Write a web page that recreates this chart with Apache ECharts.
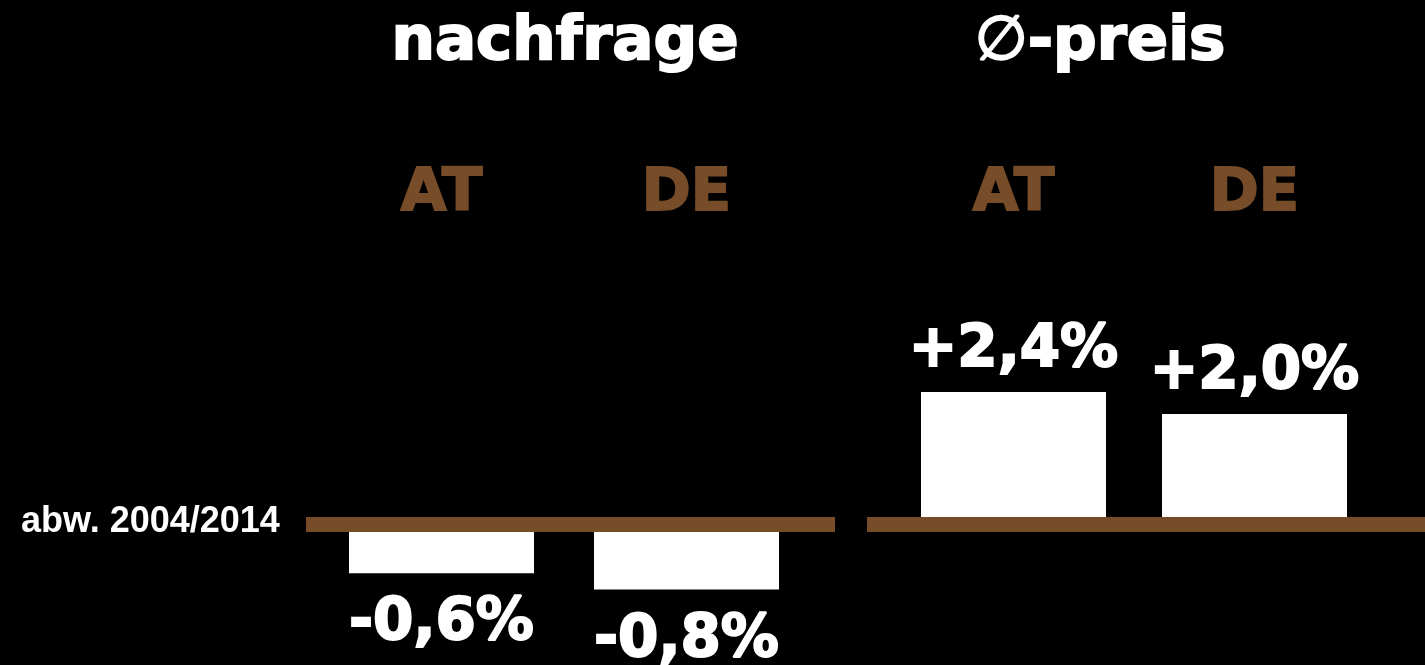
<!DOCTYPE html>
<html>
<head>
<meta charset="utf-8">
<script src="https://cdn.jsdelivr.net/npm/echarts@6/dist/echarts.min.js"></script>
<style>
  html, body { margin: 0; padding: 0; background: #000; }
  #main { width: 1425px; height: 665px; }
</style>
</head>
<body>
<div id="main"></div>
<script>
// abweichung 2004/2014 in %
const countries = ['AT', 'DE'];
const nachfrage = [-0.6, -0.8];
const preis = [2.4, 2.0];

const brown = '#774c28';
const bigFont = 'DejaVu Sans';

const fmt = (v) => (v > 0 ? '+' : '') + v.toFixed(1).replace('.', ',') + '%';

const myChart = echarts.init(document.getElementById('main'));

// thick white text, the reference uses a black-weight face
const heavy = (color, size) => ({
  color,
  fontFamily: bigFont,
  fontWeight: 'bold',
  fontSize: size,
  textBorderColor: color,
  textBorderWidth: 2,
});

const barSeries = (data, idx, pos, dist) => ({
  type: 'bar',
  xAxisIndex: idx,
  yAxisIndex: idx,
  barWidth: 185,
  data,
  itemStyle: { color: '#fff' },
  label: {
    show: true,
    position: pos,
    distance: dist,
    ...heavy('#fff', 58),
    formatter: (p) => fmt(p.value),
  },
});

const catAxis = (gridIndex, offset) => ({
  type: 'category',
  gridIndex,
  data: countries,
  position: 'top',
  offset,
  axisLine: { show: false, onZero: false },
  axisTick: { show: false },
  axisLabel: { ...heavy(brown, 59), margin: 0 },
});

// baseline axis only, drawn over the bars
const lineAxis = (gridIndex) => ({
  type: 'category',
  gridIndex,
  data: [''],
  z: 10,
  axisLine: { lineStyle: { color: brown, width: 15, cap: 'butt' } },
  axisTick: { show: false },
  axisLabel: { show: false },
});

const option = {
  backgroundColor: '#000',
  animation: false,
  title: [
    {
      text: 'nachfrage',
      left: 560,
      top: 8,
      textAlign: 'center',
      textStyle: heavy('#fff', 61),
    },
    {
      text: '{s|∅}-preis',
      left: 1095,
      top: 8,
      textAlign: 'center',
      textStyle: {
        ...heavy('#fff', 61),
        rich: { s: { color: '#fff', fontFamily: bigFont, fontWeight: 'normal', fontSize: 61 } },
      },
    },
    {
      text: 'abw. 2004/2014',
      left: 16,
      top: 499,
      textStyle: { color: '#fff', fontFamily: 'Liberation Sans', fontWeight: 'bold', fontSize: 36 },
    },
  ],
  grid: [
    { left: 319, width: 490, top: 442, bottom: 59 },
    { left: 893, width: 482, top: 359, bottom: 86 },
    { left: 306, width: 529, top: 100, bottom: 141 },
    { left: 867, right: 0, top: 100, bottom: 141 },
  ],
  xAxis: [
    catAxis(0, 218),
    catAxis(1, 135),
    lineAxis(2),
    lineAxis(3),
  ],
  yAxis: [
    { type: 'value', gridIndex: 0, min: -1, max: 1, show: false },
    { type: 'value', gridIndex: 1, min: -1, max: 3, show: false },
    { type: 'value', gridIndex: 2, min: 0, max: 1, show: false },
    { type: 'value', gridIndex: 3, min: 0, max: 1, show: false },
  ],
  series: [
    barSeries(nachfrage, 0, 'bottom', 22),
    barSeries(preis, 1, 'top', 12),
  ],
};

myChart.setOption(option);
</script>
</body>
</html>
